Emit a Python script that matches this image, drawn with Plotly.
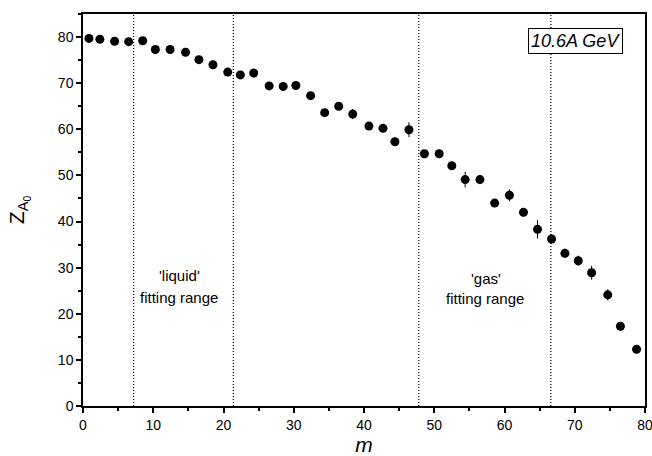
import plotly.graph_objects as go

m_vals = [0.85, 2.4, 4.5, 6.5, 8.5, 10.3, 12.4, 14.6, 16.5, 18.5,
          20.6, 22.4, 24.3, 26.5, 28.5, 30.3, 32.4, 34.4, 36.4, 38.4,
          40.7, 42.7, 44.4, 46.4, 48.6, 50.7, 52.5, 54.4, 56.5, 58.6,
          60.7, 62.7, 64.7, 66.7, 68.6, 70.5, 72.4, 74.7, 76.5, 78.8]
z_vals = [79.7, 79.5, 79.1, 79.0, 79.2, 77.3, 77.3, 76.7, 75.1, 74.0,
          72.4, 71.8, 72.2, 69.4, 69.3, 69.5, 67.3, 63.6, 65.0, 63.3,
          60.7, 60.2, 57.3, 59.9, 54.7, 54.7, 52.1, 49.1, 49.1, 44.0,
          45.7, 42.0, 38.3, 36.2, 33.1, 31.5, 28.9, 24.1, 17.3, 12.3]
z_err = [0.5, 0.5, 0.5, 0.5, 0.6, 0.6, 0.6, 0.6, 0.6, 0.6,
         0.7, 0.8, 0.9, 0.7, 0.7, 0.8, 0.8, 0.8, 0.8, 1.1,
         0.9, 0.8, 0.9, 1.6, 0.8, 0.8, 0.9, 1.7, 1.0, 0.9,
         1.3, 0.9, 2.0, 1.0, 1.0, 1.1, 1.5, 1.2, 0.9, 0.9]
range_lines = [7.2, 21.4, 47.8, 66.6]
label_texts = ["'liquid'", "fitting range", "'gas'", "fitting range"]
label_x = [13.8, 13.6, 57.3, 57.2]
label_y = [28.3, 23.6, 27.7, 23.3]

FONT = "Liberation Sans, Arial"

fig = go.Figure()
fig.add_trace(go.Scatter(
    x=m_vals, y=z_vals, mode="markers",
    marker=dict(color="black", size=9),
    error_y=dict(type="data", array=z_err, color="black", thickness=1, width=0),
    showlegend=False))

for xv in range_lines:
    fig.add_shape(type="line", x0=xv, x1=xv, y0=0, y1=85, xref="x", yref="y",
                  line=dict(color="black", width=1.2, dash="1px,2px"))

for txt, xv, yv in zip(label_texts, label_x, label_y):
    fig.add_annotation(x=xv, y=yv, xref="x", yref="y", text=txt, showarrow=False,
                       font=dict(family=FONT, size=15, color="black"), align="center")

fig.add_annotation(x=0.876, y=0.931, xref="paper", yref="paper", text="<i>10.6A GeV</i>",
                   xanchor="center", yanchor="middle",
                   showarrow=False, bgcolor="white", bordercolor="black", borderwidth=1,
                   borderpad=2,
                   font=dict(family=FONT, size=18, color="black"))

axis_common = dict(showgrid=False, zeroline=False, showline=True, linecolor="black",
                   linewidth=1.5, mirror=True, ticks="outside", ticklen=5, tickwidth=1.5,
                   tickcolor="black", automargin=False, ticklabeloverflow="allow",
                   tickfont=dict(family=FONT, size=14, color="black"),
                   minor=dict(ticks="outside", ticklen=3, tickwidth=1.5, tickcolor="black", dtick=5))

fig.update_xaxes(range=[0, 80], dtick=10, **axis_common,
                 title=dict(text="<i>m</i>", font=dict(family=FONT, size=21, color="black"),
                            standoff=8))
fig.update_yaxes(range=[0, 85], tickvals=[0, 10, 20, 30, 40, 50, 60, 70, 80], **axis_common,
                 title=dict(text="Z<sub>A<sub>0</sub></sub>", font=dict(family=FONT, size=21, color="black"),
                            standoff=28))

fig.update_layout(width=652, height=456, margin=dict(l=83, r=7, t=14, b=50, autoexpand=False),
                  plot_bgcolor="white", paper_bgcolor="white")

fig.write_html("out.html")
